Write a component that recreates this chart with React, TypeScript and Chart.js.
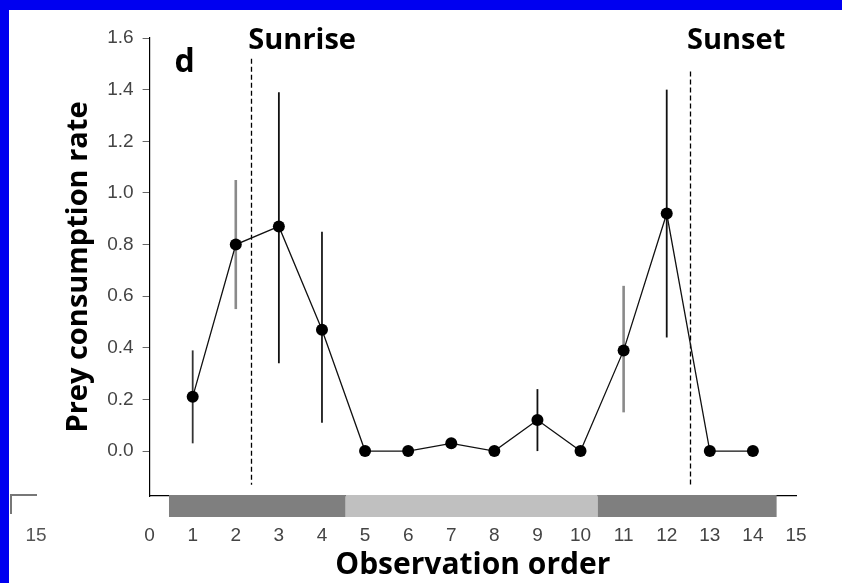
import { useEffect, useRef } from 'react';
import { Chart, registerables } from 'chart.js';

Chart.register(...registerables);

// ---- data ----
const observationOrder = [1, 2, 3, 4, 5, 6, 7, 8, 9, 10, 11, 12, 13, 14];
const consumptionRate = [0.21, 0.8, 0.87, 0.47, 0, 0, 0.03, 0, 0.12, 0, 0.39, 0.92, 0, 0];
const errorLower = [0.03, 0.55, 0.34, 0.11, null, null, null, null, 0.0, null, 0.15, 0.44, null, null];
const errorUpper = [0.39, 1.05, 1.39, 0.85, null, null, null, null, 0.24, null, 0.64, 1.4, null, null];
const xTickValues = [0, 1, 2, 3, 4, 5, 6, 7, 8, 9, 10, 11, 12, 13, 14, 15];
const yTickValues = [0, 0.2, 0.4, 0.6, 0.8, 1.0, 1.2, 1.4, 1.6];
const periodStart = [0.45, 4.55, 10.4];
const periodEnd = [4.55, 10.4, 14.55];
const eventLabels = ['Sunrise', 'Sunset'];
const eventX = [2.36, 12.54];
const eventTop = [1.52, 1.47];
const eventBottom = [-0.13, -0.13];
const panelLabel = 'd';
const neighbourTickLabel = '15';
const xTitle = 'Observation order';
const yTitle = 'Prey consumption rate';

// ---- styles ----
const errorBarColors = ['#333', '#8a8a8a', '#111', '#1a1a1a', null, null, null, null, '#111', null, '#8a8a8a', '#111', null, null];
const periodColors = ['#7f7f7f', '#c0c0c0', '#7f7f7f'];

const decorations = {
  id: 'decorations',
  beforeDatasetsDraw(chart: any) {
    const { ctx, scales } = chart;
    const x = scales.x;
    const y = scales.y;
    ctx.save();
    // dashed sunrise / sunset lines
    ctx.setLineDash([5, 3]);
    ctx.lineWidth = 1.3;
    ctx.strokeStyle = '#000';
    eventX.forEach((v, i) => {
      const px = Math.round(x.getPixelForValue(v)) + 0.5;
      ctx.beginPath();
      ctx.moveTo(px, y.getPixelForValue(eventTop[i]));
      ctx.lineTo(px, y.getPixelForValue(eventBottom[i]));
      ctx.stroke();
    });
    ctx.setLineDash([]);
    // error bars
    observationOrder.forEach((v, i) => {
      const lo = errorLower[i];
      const hi = errorUpper[i];
      if (lo == null || hi == null) return;
      const col = errorBarColors[i] || '#000';
      ctx.strokeStyle = col;
      ctx.lineWidth = col === '#8a8a8a' ? 2.6 : 1.8;
      const px = x.getPixelForValue(v);
      ctx.beginPath();
      ctx.moveTo(px, y.getPixelForValue(lo));
      ctx.lineTo(px, y.getPixelForValue(hi));
      ctx.stroke();
    });
    ctx.restore();
  },
  afterDraw(chart: any) {
    const { ctx, chartArea, scales } = chart;
    const x = scales.x;
    ctx.save();
    // day/night period bars under the axis
    periodStart.forEach((s, i) => {
      const a = x.getPixelForValue(s);
      const b = x.getPixelForValue(periodEnd[i]);
      ctx.fillStyle = periodColors[i];
      ctx.fillRect(a, chartArea.bottom - 1, b - a, 22);
    });
    // event labels
    ctx.fillStyle = '#000';
    ctx.font = 'bold 29px "Open Sans"';
    ctx.textAlign = 'left';
    ctx.textBaseline = 'alphabetic';
    eventLabels.forEach((t, i) => {
      ctx.fillText(t, x.getPixelForValue(eventX[i]) - 3, chartArea.top + 11);
    });
    // panel label
    ctx.font = 'bold 32px "Open Sans"';
    ctx.fillText(panelLabel, chartArea.left + 25, chartArea.top + 34);
    // fragment of the neighbouring panel's axis
    ctx.strokeStyle = '#777';
    ctx.lineWidth = 2;
    ctx.beginPath();
    ctx.moveTo(2, chartArea.bottom - 2);
    ctx.lineTo(2, chartArea.bottom + 18);
    ctx.moveTo(1, chartArea.bottom - 1);
    ctx.lineTo(28, chartArea.bottom - 1);
    ctx.stroke();
    ctx.fillStyle = '#555';
    ctx.font = '19px "Liberation Sans"';
    ctx.textAlign = 'center';
    ctx.textBaseline = 'middle';
    ctx.fillText(neighbourTickLabel, 27, chartArea.bottom + 39.5);
    ctx.restore();
  },
};

export default function App() {
  const ref = useRef<HTMLCanvasElement | null>(null);

  useEffect(() => {
    if (!ref.current) return;
    const chart = new Chart(ref.current, {
      type: 'line',
      data: {
        datasets: [
          {
            data: observationOrder.map((v, i) => ({ x: v, y: consumptionRate[i] })),
            borderColor: '#111',
            borderWidth: 1.3,
            pointRadius: 6,
            pointBackgroundColor: '#000',
            pointBorderColor: '#000',
            pointBorderWidth: 0,
            tension: 0,
          },
        ],
      },
      options: {
        responsive: false,
        animation: false,
        events: [],
        layout: { padding: { top: 28, right: 46, left: 0, bottom: 0 } },
        plugins: { legend: { display: false }, tooltip: { enabled: false } },
        scales: {
          x: {
            type: 'linear',
            min: 0,
            max: 15,
            afterBuildTicks: (s: any) => {
              s.ticks = xTickValues.map((value) => ({ value }));
            },
            afterFit: (s: any) => {
              s.height = 87;
            },
            grid: { display: false, drawTicks: false },
            border: { display: true, color: '#000', width: 1.2 },
            ticks: {
              padding: 28,
              color: '#444',
              font: { family: '"Liberation Sans", Arial, sans-serif', size: 19 },
              maxRotation: 0,
              autoSkip: false,
              callback: (v: any) => String(v),
            },
            title: {
              display: true,
              text: xTitle,
              color: '#000',
              font: { family: '"Open Sans", sans-serif', weight: 'bold', size: 30 },
              padding: { top: 0, bottom: 0 },
            },
          },
          y: {
            type: 'linear',
            min: -0.174,
            max: 1.6,
            afterBuildTicks: (s: any) => {
              s.ticks = yTickValues.map((value) => ({ value }));
            },
            afterFit: (s: any) => {
              s.width = 140.6;
            },
            grid: { drawOnChartArea: false, drawTicks: true, tickLength: 7, color: '#666' },
            border: { display: true, color: '#000', width: 1.2 },
            ticks: {
              padding: 9,
              color: '#444',
              font: { family: '"Liberation Sans", Arial, sans-serif', size: 19 },
              autoSkip: false,
              callback: (v: any) => Number(v).toFixed(1),
            },
            title: {
              display: true,
              text: yTitle,
              color: '#000',
              font: { family: '"Open Sans", sans-serif', weight: 'bold', size: 29 },
              padding: { top: 52, bottom: 0 },
            },
          },
        },
      },
      plugins: [decorations],
    } as any);
    return () => chart.destroy();
  }, []);

  return (
    <div
      style={{
        position: 'fixed',
        left: 0,
        top: 0,
        width: 842,
        height: 583,
        background: '#0000f0',
        overflow: 'hidden',
      }}
    >
      <canvas
        ref={ref}
        width={833}
        height={573}
        style={{ position: 'absolute', left: 9, top: 10, width: 833, height: 573, background: '#fff' }}
      />
    </div>
  );
}
